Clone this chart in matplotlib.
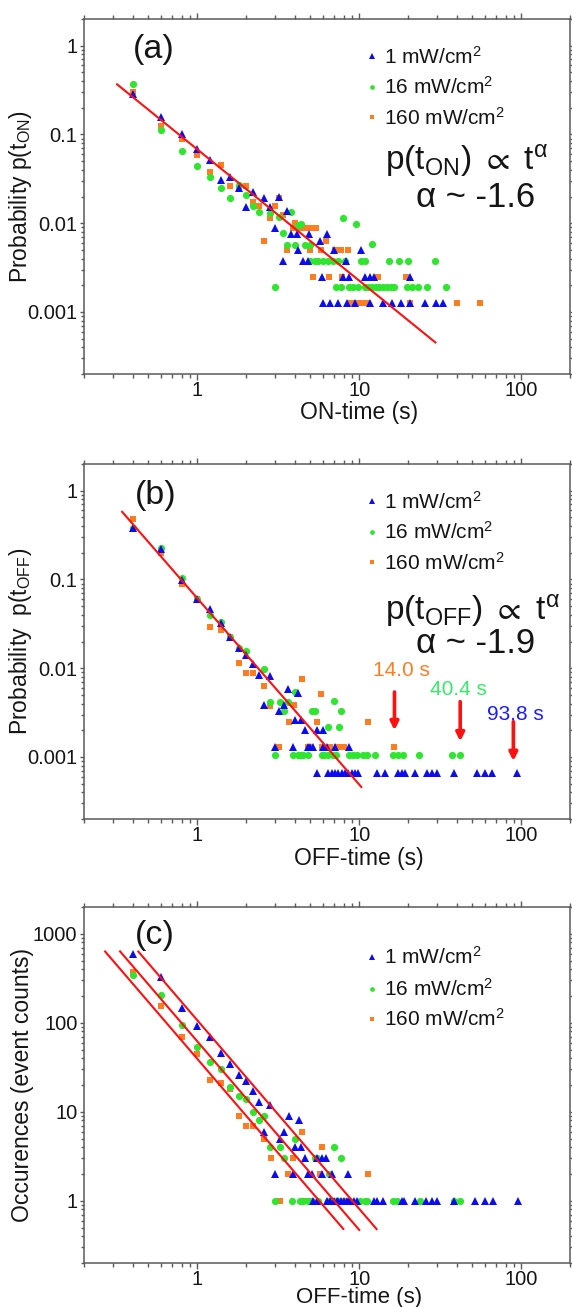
import matplotlib
matplotlib.use("Agg")
import matplotlib.pyplot as plt
import numpy as np
from matplotlib.ticker import LogLocator, NullFormatter

plt.rcParams['font.family'] = ['Liberation Sans', 'DejaVu Sans']
plt.rcParams['mathtext.fontset'] = 'custom'
plt.rcParams['mathtext.rm'] = 'Liberation Sans'
plt.rcParams['mathtext.it'] = 'Liberation Sans:italic'
plt.rcParams['mathtext.bf'] = 'Liberation Sans:bold'
plt.rcParams['mathtext.sf'] = 'Liberation Sans'
plt.rcParams['mathtext.fallback'] = 'stixsans'

# ---------------- data ----------------
SERIES_LABELS = ["1 mW/cm$^{\\mathregular{2}}$", "16 mW/cm$^{\\mathregular{2}}$", "160 mW/cm$^{\\mathregular{2}}$"]

# (a) ON-time probability
A_BLUE_T = [0.4, 0.6, 0.8, 1.0, 1.2, 1.4, 1.6, 1.8, 2.0, 2.2,
            2.6, 2.8, 3.0, 3.2, 3.4, 3.6, 3.8, 4.1, 4.2, 4.5,
            4.8, 4.9, 5.7, 5.9, 6.0, 6.3, 6.6, 7.0, 7.4, 7.9,
            8.3, 8.4, 8.7, 9.4, 10.2, 10.8, 11.7, 11.7, 12.4, 14.0,
            16.0, 18.2, 20.7, 20.7, 25.5, 29.8, 33.0]
A_BLUE_P = [0.286, 0.156, 0.101, 0.069, 0.051, 0.0307, 0.033, 0.0247, 0.0152, 0.0226,
            0.019, 0.0152, 0.0088, 0.0199, 0.0038, 0.0139, 0.0076, 0.0076, 0.0050, 0.0038,
            0.0038, 0.0076, 0.0063, 0.0025, 0.00126, 0.0076, 0.00126, 0.0050, 0.00126, 0.0025,
            0.0038, 0.00126, 0.0025, 0.00126, 0.0050, 0.0025, 0.0025, 0.00126, 0.0025, 0.00126,
            0.00126, 0.00126, 0.00126, 0.0025, 0.00126, 0.00126, 0.00126]

A_GREEN_T = [0.4, 0.6, 0.8, 1.0, 1.2, 1.4, 1.6, 1.8, 2.0, 2.2,
             2.4, 2.8, 3.0, 3.2, 3.4, 3.6, 3.8, 4.0, 4.2, 4.4,
             4.6, 5.0, 5.0, 5.3, 5.6, 6.0, 6.4, 6.9, 7.2, 7.4,
             7.9, 8.2, 8.7, 9.5, 9.8, 10.2, 10.8, 10.8, 12.0, 12.0,
             13.3, 14.8, 15.2, 16.4, 17.5, 19.7, 20.0, 21.2, 23.0, 26.1,
             29.3, 34.2, 7.7, 9.2, 11.4, 12.7, 14.0, 15.6]
A_GREEN_P = [0.37, 0.112, 0.065, 0.044, 0.033, 0.0247, 0.0191, 0.0271, 0.0208, 0.0155,
             0.0134, 0.0131, 0.0019, 0.0116, 0.0077, 0.0057, 0.0134, 0.0057, 0.0095, 0.0099,
             0.0057, 0.0038, 0.0057, 0.0038, 0.0038, 0.0038, 0.0038, 0.0038, 0.0019, 0.0038,
             0.0114, 0.0038, 0.0019, 0.0097, 0.0019, 0.0038, 0.0038, 0.0019, 0.0058, 0.0019,
             0.0019, 0.0019, 0.0038, 0.0019, 0.0038, 0.0019, 0.0038, 0.0019, 0.0019, 0.0019,
             0.0038, 0.0019, 0.0019, 0.0019, 0.0019, 0.0019, 0.0019, 0.0019]

A_ORANGE_T = [0.4, 0.6, 0.8, 1.0, 1.2, 1.4, 1.6, 1.8, 2.0, 2.2,
              2.4, 2.6, 2.8, 3.0, 3.2, 3.4, 3.6, 3.9, 4.0, 4.2,
              4.5, 4.7, 5.0, 5.0, 5.2, 5.4, 5.8, 6.2, 6.5, 7.1,
              7.7, 7.8, 8.5, 8.8, 9.5, 10.3, 11.1, 13.0, 19.5, 20.7,
              40.2, 55.4]
A_ORANGE_P = [0.303, 0.125, 0.09, 0.059, 0.038, 0.0457, 0.0263, 0.0245, 0.0263, 0.0175,
              0.0155, 0.0063, 0.0114, 0.0155, 0.019, 0.0124, 0.005, 0.0088, 0.0101, 0.0088,
              0.0088, 0.0088, 0.005, 0.0088, 0.0025, 0.0088, 0.005, 0.0063, 0.0025, 0.005,
              0.005, 0.0025, 0.005, 0.00126, 0.00126, 0.00126, 0.00126, 0.0025, 0.0025, 0.00126,
              0.00126, 0.00126]

A_FIT_AMP = 0.068
A_FIT_EXP = -1.48
A_FIT_RANGE = [0.32, 29.5]

# (b) OFF-time probability
B_BLUE_T = [0.4, 0.6, 0.8, 1.0, 1.2, 1.4, 1.6, 1.8, 2.0, 2.2,
            2.4, 2.6, 2.8, 3.0, 3.2, 3.45, 3.65, 3.9, 4.0, 4.2,
            4.4, 4.6, 4.85, 5.0, 5.2, 5.5, 5.47, 5.95, 6.0, 6.3,
            6.44, 6.77, 7.1, 7.1, 7.44, 7.8, 8.17, 8.57, 8.6, 8.98,
            9.4, 9.85, 12.8, 14.4, 17.4, 18.3, 19.1, 22.1, 26.1, 28.0,
            30.1, 38.2, 53.0, 60.0, 65.9, 94.5]
B_BLUE_P = [0.38, 0.219, 0.099, 0.060, 0.047, 0.032, 0.0226, 0.0168, 0.0141, 0.0112,
            0.0084, 0.0039, 0.0081, 0.0013, 0.0033, 0.0039, 0.0059, 0.0013, 0.0026, 0.0053,
            0.0026, 0.0020, 0.0013, 0.0013, 0.0013, 0.0020, 0.00066, 0.0020, 0.0013, 0.0013,
            0.00066, 0.00066, 0.0013, 0.00066, 0.00066, 0.00066, 0.00066, 0.00066, 0.0013, 0.00066,
            0.00066, 0.00066, 0.00066, 0.00066, 0.00066, 0.00066, 0.00066, 0.00066, 0.00066, 0.00066,
            0.00066, 0.00066, 0.00066, 0.00066, 0.00066, 0.00066]

B_GREEN_T = [0.4, 0.6, 0.8, 1.0, 1.2, 1.4, 1.6, 1.8, 2.0, 2.6,
             2.8, 3.0, 3.24, 3.45, 3.65, 3.9, 4.0, 4.2, 4.3, 4.5,
             4.85, 5.1, 5.3, 5.9, 6.1, 6.4, 6.4, 6.9, 7.0, 7.2,
             7.5, 7.7, 8.6, 9.2, 9.7, 10.6, 11.2, 12.5, 16.2, 17.4,
             18.7, 23.4, 37.6, 41.9]
B_GREEN_P = [0.377, 0.225, 0.103, 0.060, 0.0398, 0.033, 0.0226, 0.0168, 0.0155, 0.0097,
             0.0042, 0.00105, 0.0042, 0.0033, 0.0042, 0.00105, 0.0054, 0.00105, 0.00105, 0.00105,
             0.00105, 0.0033, 0.0033, 0.00105, 0.00105, 0.0022, 0.00105, 0.00105, 0.0043, 0.00105,
             0.0022, 0.0033, 0.00105, 0.00105, 0.00105, 0.00105, 0.00105, 0.00105, 0.00105, 0.00105,
             0.00105, 0.00105, 0.00105, 0.00105]

B_ORANGE_T = [0.4, 0.6, 0.8, 1.0, 1.2, 1.4, 1.6, 1.8, 2.0, 2.2,
              2.6, 2.8, 3.2, 3.66, 3.95, 4.45, 4.8, 5.0, 5.5, 5.8,
              5.9, 6.6, 7.3, 7.6, 8.0, 11.3, 16.5]
B_ORANGE_P = [0.476, 0.197, 0.089, 0.060, 0.0294, 0.027, 0.0226, 0.0114, 0.0089, 0.0089,
              0.0063, 0.0038, 0.0013, 0.0025, 0.0039, 0.0076, 0.0013, 0.0013, 0.0025, 0.0051,
              0.0013, 0.0013, 0.0013, 0.0013, 0.0013, 0.0025, 0.0013]

B_FIT_AMP = 0.0615
B_FIT_EXP = -2.10
B_FIT_RANGE = [0.344, 10.3]

B_ARROW_LABELS = ["14.0 s", "40.4 s", "93.8 s"]
B_ARROW_T = [16.5, 42.0, 89.4]
B_ARROW_START = [0.0054, 0.0042, 0.0025]
B_ARROW_TIP = [0.0020, 0.0015, 0.0009]

# (c) OFF-time occurrences
C_BLUE_T = [0.4, 0.6, 0.8, 1.0, 1.2, 1.4, 1.6, 1.8, 2.0, 2.2,
            2.4, 2.6, 2.8, 3.0, 3.25, 3.45, 3.67, 3.9, 4.0, 4.27,
            4.4, 4.6, 4.85, 5.1, 5.2, 5.47, 5.5, 5.9, 5.9, 6.2,
            6.3, 6.6, 6.8, 7.0, 7.3, 7.4, 7.7, 8.0, 8.4, 8.5,
            8.6, 9.3, 9.65, 12.4, 12.8, 14.1, 18.3, 18.9, 22.1, 25.7,
            28.0, 30.3, 38.5, 52.0, 60.0, 67.2, 95.7]
C_BLUE_N = [600, 327, 147, 91, 69, 46, 34, 26, 22, 17,
            13, 6, 12, 2, 5, 6, 9, 2, 4, 8,
            4, 3, 2, 2, 1, 1, 3, 3, 2, 3,
            1, 1, 2, 1, 1, 1, 1, 1, 1, 2,
            1, 1, 1, 1, 1, 1, 1, 1, 1, 1,
            1, 1, 1, 1, 1, 1, 1]

C_GREEN_T = [0.4, 0.6, 0.8, 1.0, 1.2, 1.4, 1.6, 1.8, 2.0, 2.2,
             2.4, 2.6, 2.8, 3.02, 3.24, 3.45, 3.83, 4.0, 4.31, 4.52,
             4.85, 5.1, 5.3, 5.5, 5.6, 6.45, 6.5, 7.0, 7.1, 7.6,
             7.7, 8.8, 10.1, 10.8, 11.1, 16.2, 17.0, 23.7, 38.2, 41.9]
C_GREEN_N = [347, 203, 95, 54, 36, 30, 19, 15, 14, 10,
             8, 9, 4, 1, 4, 3, 1, 5, 1, 1,
             1, 1, 3, 3, 1, 1, 2, 4, 1, 1,
             3, 1, 1, 1, 1, 1, 1, 1, 1, 1]

C_ORANGE_T = [0.4, 0.6, 0.8, 1.0, 1.2, 1.4, 1.6, 1.8, 2.0, 2.2,
              2.6, 2.84, 3.25, 3.65, 3.9, 4.45, 4.8, 5.0, 5.7, 5.9,
              6.6, 7.3, 7.6, 8.0, 11.4]
C_ORANGE_N = [368, 153, 69, 45, 23, 21, 18, 9, 7, 7,
              5, 3, 1, 2, 3, 6, 1, 1, 2, 4,
              1, 1, 1, 1, 2]

C_FIT_AMP = [39.4, 62.0, 107.0]
C_FIT_EXP = -2.12
C_FIT_START = [0.27, 0.334, 0.433]
C_FIT_END = [7.98, 10.0, 12.8]

X_TICKS = [1, 10, 100]
X_TICK_LABELS = ["1", "10", "100"]
P_TICKS = [0.001, 0.01, 0.1, 1]
P_TICK_LABELS = ["0.001", "0.01", "0.1", "1"]
N_TICKS = [1, 10, 100, 1000]
N_TICK_LABELS = ["1", "10", "100", "1000"]

# ---------------- style ----------------
BLUE = '#0c0cf0'
GREEN = '#2fe62f'
ORANGE = '#ff7d1e'
RED = '#ff1010'
SPINE = '#5a5a5a'
TXT = '#151515'

fig = plt.figure(figsize=(5.72, 13.07), dpi=100)
W, H = 572.0, 1307.0
L, R = 84.0, 570.0


def make_ax(top, bottom):
    return fig.add_axes([L / W, 1 - bottom / H, (R - L) / W, (bottom - top) / H])


def style(ax, ylim, yt, ytl):
    ax.set_xscale('log')
    ax.set_yscale('log')
    ax.set_xlim(0.2, 200)
    ax.set_ylim(*ylim)
    ax.set_xticks(X_TICKS, labels=X_TICK_LABELS)
    ax.set_yticks(yt, labels=ytl)
    ax.xaxis.set_minor_locator(LogLocator(base=10, subs=np.arange(2, 10) * 1.0, numticks=100))
    ax.yaxis.set_minor_locator(LogLocator(base=10, subs=np.arange(2, 10) * 1.0, numticks=100))
    ax.xaxis.set_minor_formatter(NullFormatter())
    ax.yaxis.set_minor_formatter(NullFormatter())
    for s in ax.spines.values():
        s.set_color(SPINE)
        s.set_linewidth(1.1)
    ax.tick_params(which='both', direction='out', top=True, right=True,
                   labeltop=False, labelright=False, color=SPINE, labelcolor=TXT,
                   labelsize=14.5, width=1.0)
    ax.tick_params(axis='x', which='major', length=4.5, pad=0.5)
    ax.tick_params(axis='x', which='minor', length=2.8)
    ax.tick_params(axis='y', which='major', length=3.2, pad=1.5)
    ax.tick_params(axis='y', which='minor', length=2.0)


def scatter3(ax, bt, bv, gt, gv, ot, ov):
    ax.plot(ot, ov, ls='none', marker='s', ms=4.4, mew=0, color=ORANGE, zorder=3)
    ax.plot(gt, gv, ls='none', marker='o', ms=5.2, mew=0, color=GREEN, zorder=4)
    ax.plot(bt, bv, ls='none', marker='^', ms=6.0, mew=0, color=BLUE, zorder=5)


def legend(ax, ymarks, ybases):
    mk = [('^', BLUE, 4.0), ('o', GREEN, 3.4), ('s', ORANGE, 3.0)]
    for (m, c, s), ym, yb, lab in zip(mk, ymarks, ybases, SERIES_LABELS):
        ax.plot([0.593], [ym], transform=ax.transAxes, ls='none', marker=m, ms=s,
                mew=0, color=c, clip_on=False, zorder=6)
        ax.text(0.617, yb, lab, transform=ax.transAxes, fontsize=15, color=TXT,
                ha='left', va='baseline')


def fitline(ax, amp, ex, t0, t1):
    t = np.geomspace(t0, t1, 50)
    ax.plot(t, amp * t ** ex, color=RED, lw=1.5, zorder=6)


EQ_FS = 24

# ---- panel (a)
axa = make_ax(19, 374)
style(axa, (2e-4, 2), P_TICKS, P_TICK_LABELS)
scatter3(axa, A_BLUE_T, A_BLUE_P, A_GREEN_T, A_GREEN_P, A_ORANGE_T, A_ORANGE_P)
fitline(axa, A_FIT_AMP, A_FIT_EXP, *A_FIT_RANGE)
legend(axa, [0.896, 0.808, 0.724], [0.875, 0.789, 0.703])
axa.text(0.144, 0.915, "(a)", transform=axa.transAxes, fontsize=24.5, ha='center', va='center', color=TXT)
axa.text(0.619, 0.575, "p(t$_{\\mathregular{ON}}$) $\\propto$ t$^{\\mathregular{α}}$", transform=axa.transAxes,
         fontsize=EQ_FS, ha='left', va='baseline', color=TXT)
axa.text(0.683, 0.471, "α ~ -1.6", transform=axa.transAxes, fontsize=EQ_FS + 1, ha='left', va='baseline', color=TXT)
axa.set_xlabel("ON-time (s)", fontsize=16.5, color=TXT)
axa.xaxis.set_label_coords(0.565, -0.076)
axa.set_ylabel("Probability p(t$_{\\mathregular{ON}}$)", fontsize=16.5, color=TXT)
axa.yaxis.set_label_coords(-0.103, 0.5)

# ---- panel (b)
axb = make_ax(464, 819)
style(axb, (2e-4, 2), P_TICKS, P_TICK_LABELS)
scatter3(axb, B_BLUE_T, B_BLUE_P, B_GREEN_T, B_GREEN_P, B_ORANGE_T, B_ORANGE_P)
fitline(axb, B_FIT_AMP, B_FIT_EXP, *B_FIT_RANGE)
legend(axb, [0.896, 0.808, 0.724], [0.875, 0.789, 0.703])
axb.text(0.148, 0.91, "(b)", transform=axb.transAxes, fontsize=24.5, ha='center', va='center', color=TXT)
axb.text(0.619, 0.563, "p(t$_{\\mathregular{OFF}}$) $\\propto$ t$^{\\mathregular{α}}$", transform=axb.transAxes,
         fontsize=EQ_FS, ha='left', va='baseline', color=TXT)
axb.text(0.683, 0.467, "α ~ -1.9", transform=axb.transAxes, fontsize=EQ_FS + 1, ha='left', va='baseline', color=TXT)
arrow_cols = [ORANGE, '#35ec6a', '#1c1cff']
label_pos = [(18.3, 0.0095), (41.1, 0.0058), (91.6, 0.0030)]
for lab, t, p0, p1, c, (lx, ly) in zip(B_ARROW_LABELS, B_ARROW_T, B_ARROW_START, B_ARROW_TIP,
                                        arrow_cols, label_pos):
    axb.annotate('', xy=(t, p1), xytext=(t, p0),
                 arrowprops=dict(arrowstyle='-|>', color=RED, lw=2.6, mutation_scale=12,
                                 shrinkA=0, shrinkB=0), zorder=7)
    axb.text(lx, ly, lab, fontsize=15, color=c, ha='center', va='center')
axb.set_xlabel("OFF-time (s)", fontsize=16.5, color=TXT)
axb.xaxis.set_label_coords(0.565, -0.0775)
axb.set_ylabel("Probability  p(t$_{\\mathregular{OFF}}$)", fontsize=16.5, color=TXT)
axb.yaxis.set_label_coords(-0.103, 0.5)

# ---- panel (c)
axc = make_ax(907, 1263)
style(axc, (0.2, 2000), N_TICKS, N_TICK_LABELS)
scatter3(axc, C_BLUE_T, C_BLUE_N, C_GREEN_T, C_GREEN_N, C_ORANGE_T, C_ORANGE_N)
for a, t0, t1 in zip(C_FIT_AMP, C_FIT_START, C_FIT_END):
    fitline(axc, a, C_FIT_EXP, t0, t1)
legend(axc, [0.860, 0.771, 0.6865], [0.8394, 0.7504, 0.6659])
axc.text(0.146, 0.921, "(c)", transform=axc.transAxes, fontsize=24.5, ha='center', va='center', color=TXT)
axc.set_xlabel("OFF-time (s)", fontsize=16, color=TXT)
axc.xaxis.set_label_coords(0.565, -0.067)
axc.set_ylabel("Occurences (event counts)", fontsize=16.5, color=TXT)
axc.yaxis.set_label_coords(-0.103, 0.5)

fig.savefig("out.png", dpi=100)
